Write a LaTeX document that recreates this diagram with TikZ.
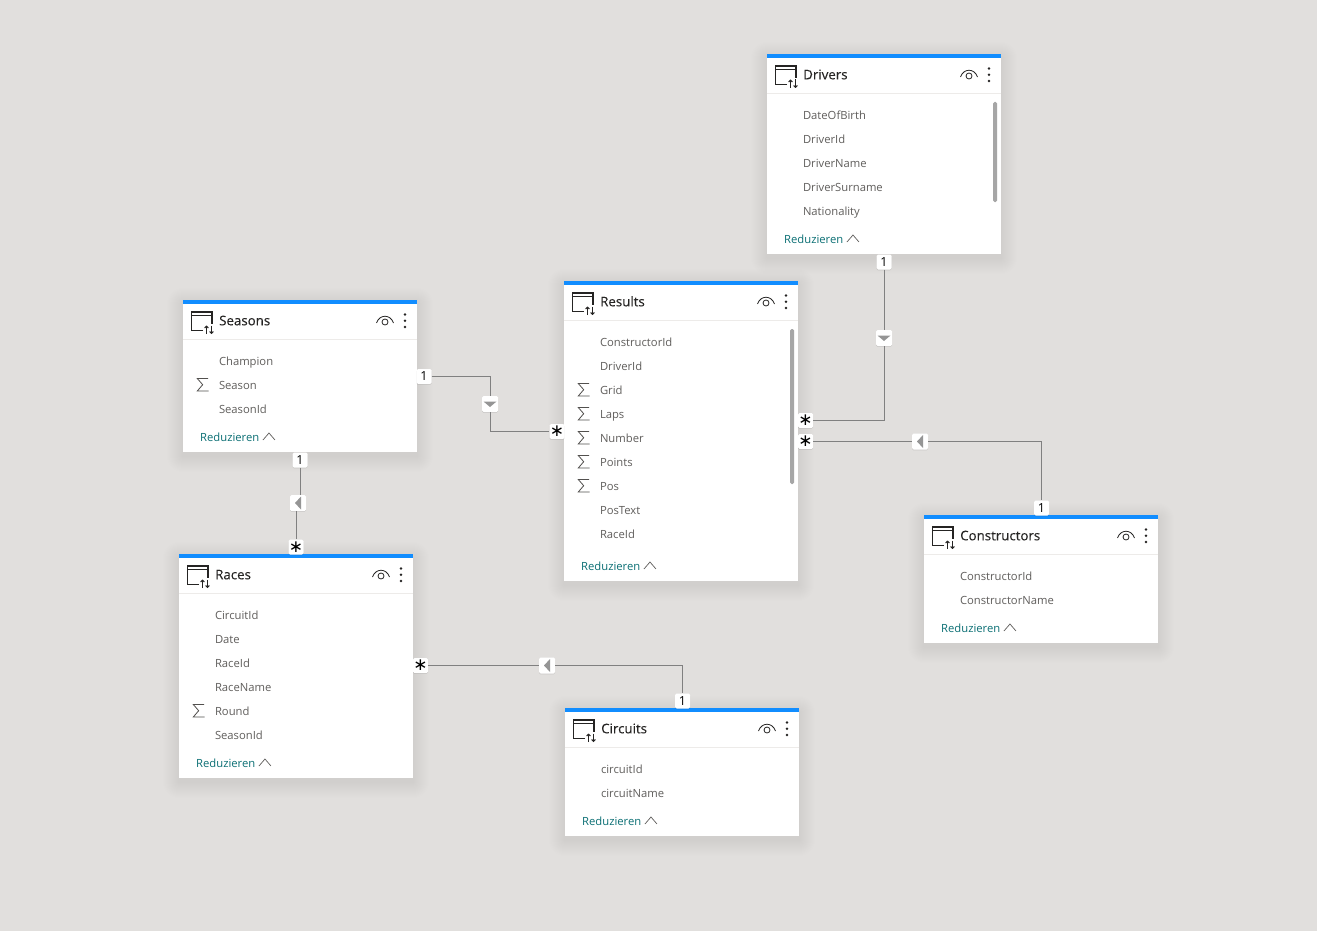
\documentclass[tikz,border=0pt]{standalone}
\usepackage{fontspec}
\setmainfont{Open Sans}
\newfontfamily\starfont{DejaVu Sans}
\newfontfamily\titlefont[FakeBold=0.12]{Open Sans}
\usetikzlibrary{calc,arrows.meta,shadows}
\definecolor{canvas}{HTML}{E1DFDD}
\definecolor{barblue}{HTML}{118DFF}
\definecolor{fieldtxt}{HTML}{605E5C}
\definecolor{titletxt}{HTML}{252423}
\definecolor{redtxt}{HTML}{0B6F74}
\definecolor{rulecol}{HTML}{EDEBE9}
\definecolor{relline}{HTML}{808080}
\definecolor{midtri}{HTML}{959595}
\tikzset{
  tablebox/.style={fill=white,draw=none,inner sep=0pt,anchor=north west,minimum width=234pt},
  fieldlabel/.style={inner sep=0pt,anchor=base west,text=fieldtxt,font=\fontsize{11.25}{14}\selectfont},
  titlelabel/.style={inner sep=0pt,anchor=base west,text=titletxt,font=\titlefont\fontsize{13.3}{16}\selectfont},
  reducelabel/.style={inner sep=0pt,anchor=base west,text=redtxt,font=\fontsize{11.25}{14}\selectfont},
  badgebox/.style={fill=white,rounded corners=1.5pt,inner sep=0pt,minimum width=15pt,minimum height=15pt,
     drop shadow={shadow xshift=0pt,shadow yshift=-0.8pt,fill=black,opacity=.10}},
  onebadge/.style={badgebox,text=black,font=\fontsize{12.5}{12.5}\selectfont},
  starbadge/.style={badgebox,text=black,font=\starfont\fontsize{17}{17}\selectfont},
  midbadge/.style={badgebox,minimum width=16pt,minimum height=16pt},
  relation/.style={draw=relline,line width=1pt},
  iconline/.style={draw=titletxt,line width=1.3pt},
  sumline/.style={draw=fieldtxt!85!black,line width=.8pt,line join=miter},
}
% #1 id, #2 x, #3 y, #4 height, #5 title, #6 fields name/flag
\newcommand{\modeltable}[6]{%
  \foreach \s in {16,15,14,13,12,11,10,9,8,7,6,5,4,3,2,1}{
    \fill[black,opacity=.005,rounded corners=\s pt] (#2-\s,#3-\s+4) rectangle (#2+234+\s,#3+#4+\s+4);
  }
  \node[tablebox,minimum height=#4pt] (#1) at (#2,#3) {};
  \fill[barblue] (#2,#3) rectangle (#2+234,#3+4);
  \draw[rulecol,line width=1pt] (#2,#3+39.5) -- (#2+234,#3+39.5);
  % table icon
  \draw[iconline] (#2+20,#3+30.5) -- (#2+8.5,#3+30.5) -- (#2+8.5,#3+12) -- (#2+29,#3+12) -- (#2+29,#3+24);
  \draw[iconline,line width=1pt] (#2+8.5,#3+15.5) -- (#2+29,#3+15.5);
  \draw[iconline,line width=1pt,-{Straight Barb[length=1.8pt,width=3.8pt]}] (#2+23.5,#3+34) -- (#2+23.5,#3+25.5);
  \draw[iconline,line width=1pt,-{Straight Barb[length=1.8pt,width=3.8pt]}] (#2+28.5,#3+25.5) -- (#2+28.5,#3+34);
  \node[titlelabel] (#1-title) at (#2+36,#3+25.3) {#5};
  % eye
  \draw[draw=titletxt,line width=.8pt] (#2+193.5,#3+23) .. controls (#2+196.5,#3+14) and (#2+207.5,#3+14) .. (#2+210.5,#3+23);
  \draw[draw=titletxt,line width=.8pt] (#2+202,#3+22) circle[radius=3pt];
  % dots
  \foreach \d in {14.5,20.7,27}{\fill[titletxt] (#2+222,#3+\d) circle[radius=1.4pt];}
  % fields
  \foreach \f/\g [count=\i from 0] in {#6}{
    \node[fieldlabel] (#1-f\i) at (#2+35.8,#3+65.3+24*\i) {\f};
    \ifnum\g=1
      \draw[sumline] (#2+25,#3+54.5+24*\i) -- (#2+14.3,#3+54.5+24*\i) -- (#2+19.7,#3+60.7+24*\i) -- (#2+14.3,#3+67+24*\i) -- (#2+25.5,#3+67+24*\i);
    \fi
  }
  \node[reducelabel] (#1-red) at (#2+17,#3+#4-11) {Reduzieren};
  \draw[draw=fieldtxt,line width=.7pt] (#1-red.base east)++(3.5,-1) -- ++(6,-7) -- ++(6,7);
}
\newcommand{\markdown}[1]{\fill[midtri] ($(#1.center)+(-6.5,-2.5)$) -- ($(#1.center)+(6.5,-2.5)$) -- ($(#1.center)+(0,3)$) -- cycle;}
\newcommand{\markleft}[1]{\fill[midtri] ($(#1.center)+(3,-6.5)$) -- ($(#1.center)+(3,6.5)$) -- ($(#1.center)+(-3,0)$) -- cycle;}
\begin{document}
\begin{tikzpicture}[x=1pt,y=-1pt]
\useasboundingbox (0,0) rectangle (1317,931);
\fill[canvas] (0,0) rectangle (1317,931);

\modeltable{drivers}{767}{54}{200}{Drivers}{DateOfBirth/0,DriverId/0,DriverName/0,DriverSurname/0,Nationality/0}
\fill[gray!70,rounded corners=1.5pt] (993,102) rectangle (997,202);
\modeltable{results}{564}{281}{300}{Results}{ConstructorId/0,DriverId/0,Grid/1,Laps/1,Number/1,Points/1,Pos/1,PosText/0,RaceId/0}
\fill[gray!70,rounded corners=1.5pt] (790,329) rectangle (794,484);
\modeltable{seasons}{183}{300}{152}{Seasons}{Champion/0,Season/1,SeasonId/0}
\modeltable{races}{179}{554}{224}{Races}{CircuitId/0,Date/0,RaceId/0,RaceName/0,Round/1,SeasonId/0}
\modeltable{circuits}{565}{708}{128}{Circuits}{circuitId/0,circuitName/0}
\modeltable{constructors}{924}{515}{128}{Constructors}{ConstructorId/0,ConstructorName/0}

% badges
\node[onebadge] (d1) at (884,262) {1};
\node[midbadge] (dm) at (884,338) {};
\node[starbadge] (ds) at (805.5,420.5) {∗};
\node[starbadge] (cs) at (805.5,441.5) {∗};
\node[midbadge] (cm) at (920,441.5) {};
\node[onebadge] (c1) at (1041.5,508) {1};
\node[onebadge] (s1) at (424,376.5) {1};
\node[midbadge] (sm) at (490,404) {};
\node[starbadge] (rs) at (557,431.5) {∗};
\node[onebadge] (s2) at (300,460) {1};
\node[midbadge] (rm) at (298,503) {};
\node[starbadge] (ra) at (296,547) {∗};
\node[starbadge] (ci) at (420.5,665.5) {∗};
\node[midbadge] (im) at (547,665.5) {};
\node[onebadge] (i1) at (682.5,701) {1};

\markdown{dm}\markdown{sm}
\markleft{cm}\markleft{rm}\markleft{im}

% connectors
\draw[relation] (d1.south) -- (dm.north);
\draw[relation] (dm.south) |- (ds.east);
\draw[relation] (cs.east) -- (cm.west);
\draw[relation] (cm.east) -| (c1.north);
\draw[relation] (s1.east) -| (sm.north);
\draw[relation] (sm.south) |- (rs.west);
\draw[relation] (s2.south) -- (s2.south |- rm.north);
\draw[relation] (ra.north |- rm.south) -- (ra.north);
\draw[relation] (ci.east) -- (im.west);
\draw[relation] (im.east) -| (i1.north);
\end{tikzpicture}
\end{document}
